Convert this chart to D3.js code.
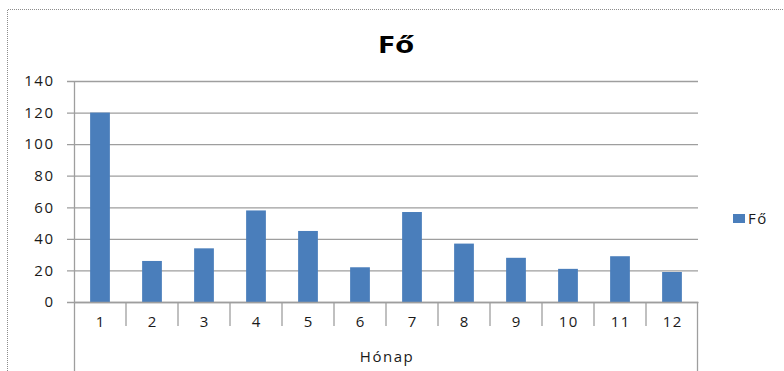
<!DOCTYPE html>
<html>
<head>
<meta charset="utf-8">
<script src="https://cdn.jsdelivr.net/npm/d3@7"></script>
<style>
  body { margin: 0; background: #fff; }
  text { font-family: "Open Sans", sans-serif; }
</style>
</head>
<body>
<div id="chart"></div>
<script>
let months = ["1","2","3","4","5","6","7","8","9","10","11","12"];
let values = [120, 26, 34, 58, 45, 22, 57, 37, 28, 21, 29, 19];
let yTicks = [0, 20, 40, 60, 80, 100, 120, 140];
let title = "Fő";
let seriesName = "Fő";
let axisTitle = "Hónap";

let w = 784;
let h = 371;
let plotLeft = 74, plotRight = 698, plotTop = 81, plotBottom = 302;
let barColor = "#4a7ebb";
let gridColor = "#9e9e9e";
let textColor = "#1a1a1a";

let svg = d3.select("#chart").append("svg")
  .attr("width", w)
  .attr("height", h);

// outer chart frame (cut off right/bottom in the reference)
svg.append("path")
  .attr("d", "M7.5," + (h + 2) + " V9.5 H" + (w + 2))
  .attr("fill", "none")
  .attr("stroke", "#8c8c8c")
  .attr("stroke-width", 1)
  .attr("stroke-dasharray", "1,1");

let xScale = d3.scaleBand().domain(months).range([plotLeft, plotRight]).paddingInner(0).paddingOuter(0);
let yScale = d3.scaleLinear().domain([0, 140]).range([plotBottom, plotTop]);

// gridlines + y labels
let yAxis = d3.axisLeft(yScale).tickValues(yTicks).tickSize(0);
let yg = svg.append("g")
  .attr("transform", "translate(" + plotRight + ",0)")
  .call(yAxis);
yg.select(".domain").remove();
yg.selectAll(".tick line").attr("stroke", gridColor).attr("stroke-width", 1.3)
  .attr("x1", 0).attr("x2", -(plotRight - plotLeft) - 7);
yg.selectAll(".tick text")
  .attr("x", -(plotRight - plotLeft) - 19.5)
  .attr("font-size", "15px")
  .attr("letter-spacing", "1.5px")
  .attr("fill", textColor)
  .attr("font-family", "Open Sans, sans-serif");

// y axis line
svg.append("line")
  .attr("x1", plotLeft + 0.5).attr("x2", plotLeft + 0.5)
  .attr("y1", plotTop).attr("y2", h)
  .attr("stroke", gridColor).attr("stroke-width", 1.3);
svg.append("line")
  .attr("x1", plotRight - 0.5).attr("x2", plotRight - 0.5)
  .attr("y1", plotBottom).attr("y2", h)
  .attr("stroke", gridColor).attr("stroke-width", 1.3);

// bars
svg.selectAll(".bar")
  .data(values)
  .enter()
  .append("rect")
  .attr("class", "bar")
  .attr("x", (d, i) => xScale(months[i]) + xScale.bandwidth() * 0.31)
  .attr("width", xScale.bandwidth() * 0.38)
  .attr("y", d => yScale(d))
  .attr("height", d => yScale(0) - yScale(d))
  .attr("fill", barColor);

// category axis
let xAxis = d3.axisBottom(xScale).tickSize(0).tickPadding(14);
let xg = svg.append("g")
  .attr("transform", "translate(0," + plotBottom + ")")
  .call(xAxis);
xg.select(".domain").attr("stroke", gridColor).attr("stroke-width", 1.3);
xg.selectAll(".tick text")
  .attr("font-size", "15px")
  .attr("letter-spacing", "1.5px")
  .attr("dx", "0.75px")
  .attr("fill", textColor)
  .attr("font-family", "Open Sans, sans-serif");

// separators between categories
svg.selectAll(".sep")
  .data(months.slice(1))
  .enter()
  .append("line")
  .attr("class", "sep")
  .attr("x1", d => xScale(d)).attr("x2", d => xScale(d))
  .attr("y1", plotBottom).attr("y2", plotBottom + 24)
  .attr("stroke", gridColor).attr("stroke-width", 1.3);

// axis title
svg.append("text")
  .attr("x", (plotLeft + plotRight) / 2 + 1)
  .attr("y", 362)
  .attr("text-anchor", "middle")
  .attr("font-size", "15px")
  .attr("letter-spacing", "1.5px")
  .attr("fill", textColor)
  .text(axisTitle);

// chart title (stretched a bit wider, like the reference)
svg.append("text")
  .attr("transform", "translate(396,53) scale(1.3,1)")
  .attr("text-anchor", "middle")
  .attr("font-size", "24px")
  .attr("font-weight", "bold")
  .attr("fill", "#000")
  .text(title);

// legend
let legend = svg.append("g").attr("transform", "translate(733,214)");
legend.append("rect")
  .attr("width", 12).attr("height", 9)
  .attr("fill", barColor);
legend.append("text")
  .attr("x", 15).attr("y", 10)
  .attr("font-size", "15px")
  .attr("letter-spacing", "1.5px")
  .attr("fill", textColor)
  .text(seriesName);
</script>
</body>
</html>
